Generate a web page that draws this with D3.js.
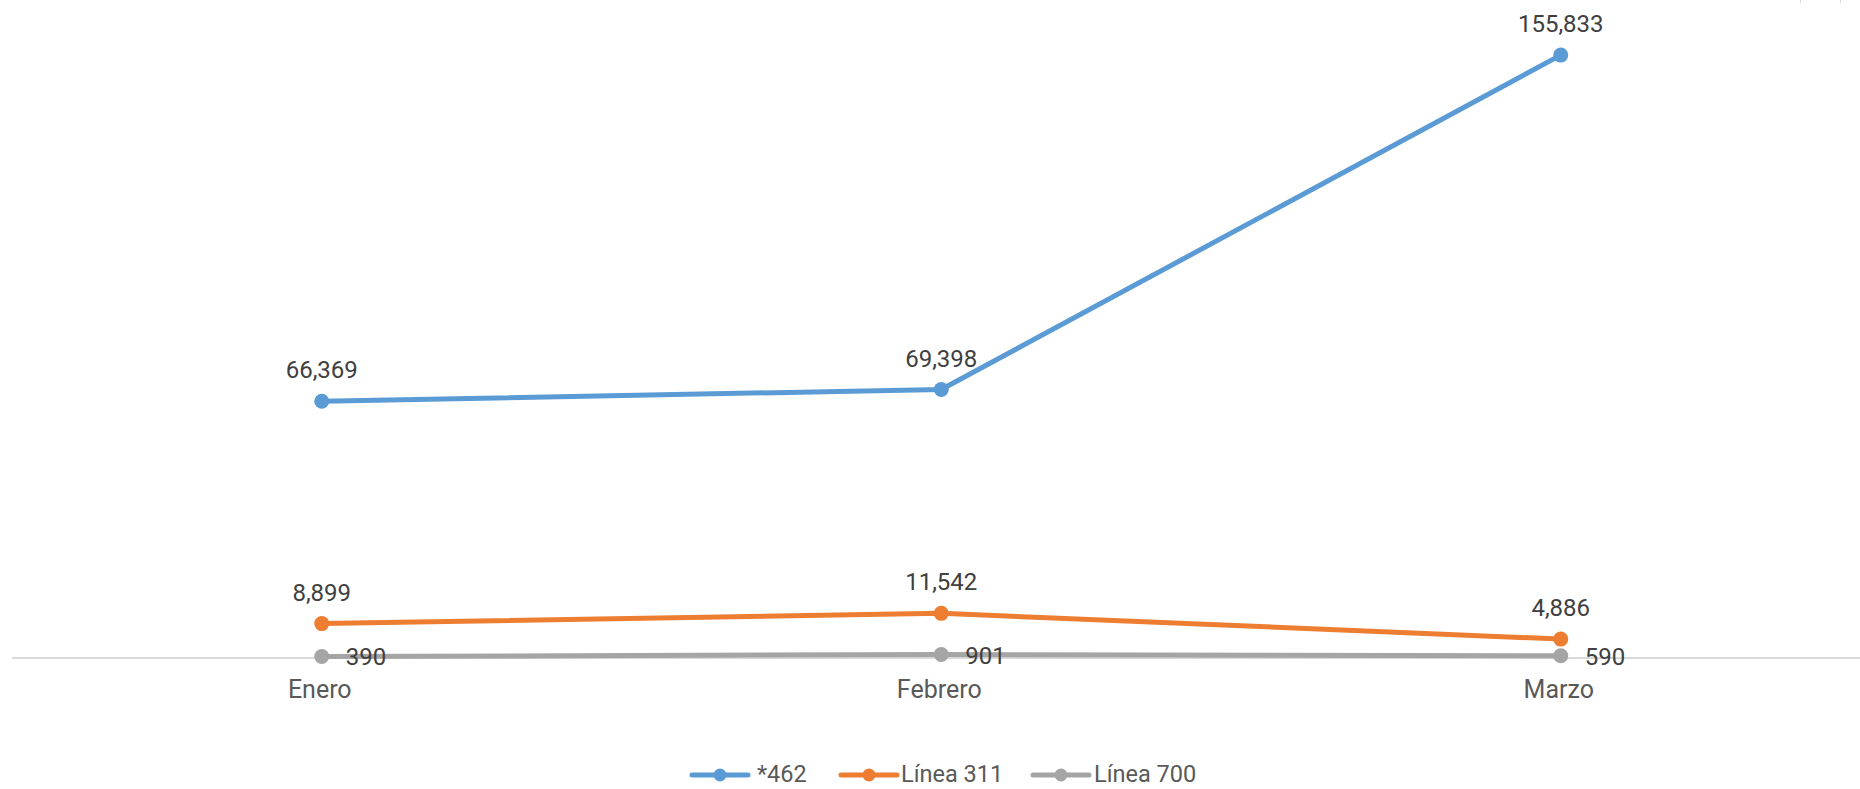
<!DOCTYPE html>
<html>
<head>
<meta charset="utf-8">
<script src="https://cdn.jsdelivr.net/npm/d3@7"></script>
<style>
  html, body { margin: 0; padding: 0; background: #fff; }
  svg { display: block; }
  text { font-family: Roboto, "Noto Sans", sans-serif; }
</style>
</head>
<body>
<svg id="chart" width="1860" height="789"></svg>
<script>
const categories = ["Enero", "Febrero", "Marzo"];
const seriesNames = ["*462", "Línea 311", "Línea 700"];
const values462 = [66369, 69398, 155833];
const values311 = [8899, 11542, 4886];
const values700 = [390, 901, 590];
const colors = ["#5B9BD5", "#ED7D31", "#A5A5A5"];
const labelPlacement = ["above", "above", "right"];

const series = [values462, values311, values700].map((vals, i) => ({
  name: seriesNames[i], color: colors[i], place: labelPlacement[i],
  data: vals.map((v, j) => ({ cat: categories[j], value: v }))
}));

const svg = d3.select("#chart");
const W = 1860;

const x = d3.scaleBand().domain(categories).range([12, 1870.5]);
const cx = c => x(c) + x.bandwidth() / 2;
const y = d3.scaleLinear().domain([0, 160000]).range([658, 39]);

// top-right small marks
svg.append("line").attr("x1", 1800.5).attr("x2", 1800.5).attr("y1", 0).attr("y2", 3)
  .attr("stroke", "#d9d9d9").attr("stroke-width", 1);
svg.append("line").attr("x1", 1840.5).attr("x2", 1840.5).attr("y1", 0).attr("y2", 3)
  .attr("stroke", "#d9d9d9").attr("stroke-width", 1);

// x axis
const xAxis = d3.axisBottom(x).tickSize(0).tickPadding(0);
const gx = svg.append("g").attr("transform", `translate(-2, ${y(0)})`).call(xAxis);
gx.select(".domain").remove();
gx.selectAll("text")
  .attr("dy", null).attr("y", 40)
  .attr("font-size", 25).attr("fill", "#595959")
  .attr("font-family", "Roboto, sans-serif");
svg.append("line")
  .attr("x1", 12).attr("x2", W).attr("y1", y(0)).attr("y2", y(0))
  .attr("stroke", "#d9d9d9").attr("stroke-width", 2);

const line = d3.line().x(d => cx(d.cat)).y(d => y(d.value));

// draw series in reverse so blue on top
series.slice().reverse().forEach(s => {
  const g = svg.append("g");
  g.append("path").datum(s.data).attr("d", line)
    .attr("fill", "none").attr("stroke", s.color)
    .attr("stroke-width", 5).attr("stroke-linejoin", "round").attr("stroke-linecap", "round");
  g.selectAll("circle").data(s.data).join("circle")
    .attr("cx", d => cx(d.cat)).attr("cy", d => y(d.value)).attr("r", 7.5)
    .attr("fill", s.color);
});

// labels
series.forEach(s => {
  svg.append("g").selectAll("text").data(s.data).join("text")
    .attr("x", d => s.place === "right" ? cx(d.cat) + 24 : cx(d.cat))
    .attr("y", d => s.place === "right" ? y(d.value) + 9 : y(d.value) - 23)
    .attr("text-anchor", s.place === "right" ? "start" : "middle")
    .attr("font-size", 24).attr("fill", "#404040")
    .text(d => d3.format(",")(d.value));
});

// legend
const legendItems = [
  { x0: 692, tx: 757 },
  { x0: 841, tx: 901 },
  { x0: 1033, tx: 1094 }
];
const ly = 775;
series.forEach((s, i) => {
  const it = legendItems[i];
  const g = svg.append("g");
  g.append("line").attr("x1", it.x0).attr("x2", it.x0 + 56).attr("y1", ly).attr("y2", ly)
    .attr("stroke", s.color).attr("stroke-width", 5).attr("stroke-linecap", "round");
  g.append("circle").attr("cx", it.x0 + 28).attr("cy", ly).attr("r", 6.5).attr("fill", s.color);
  g.append("text").attr("x", it.tx).attr("y", ly + 7).attr("font-size", 23.5).attr("fill", "#595959")
    .text(s.name);
});
</script>
</body>
</html>
